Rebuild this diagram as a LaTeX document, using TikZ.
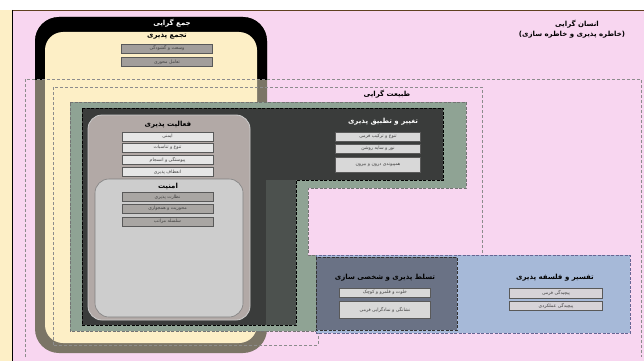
\documentclass[tikz,border=0pt]{standalone}
\usepackage{fontspec}
\usepackage{xcolor}
\newfontfamily\farsi[Script=Arabic]{DejaVu Sans}
\TeXXeTstate=1
\usetikzlibrary{positioning}

\definecolor{pinkbg}{HTML}{F8D6F0}
\definecolor{creamy}{HTML}{FDEFC6}
\definecolor{olivegrey}{HTML}{7B7566}
\definecolor{greenL}{HTML}{8FA394}
\definecolor{darkfill}{HTML}{3A3C3B}
\definecolor{darklight}{HTML}{4C514E}
\definecolor{taupe}{HTML}{B2A9A6}
\definecolor{safegrey}{HTML}{CDCDCD}
\definecolor{boxA}{HTML}{A29E9B}
\definecolor{boxB}{HTML}{E6E6E6}
\definecolor{boxC}{HTML}{A9A6A3}
\definecolor{boxD}{HTML}{D8D8D8}
\definecolor{slate}{HTML}{6A7285}
\definecolor{bluefill}{HTML}{A6B9D8}
\definecolor{boxE}{HTML}{D6D3D8}

\newcommand{\fa}[1]{\beginR #1\endR}

\begin{document}
\begin{tikzpicture}[x=1pt,y=-1pt,
  title/.style={font=\farsi\bfseries\fontsize{7}{8}\selectfont},
  item/.style={draw=black!65, line width=0.7pt, minimum width=91pt,
    minimum height=9pt, inner sep=0pt, text=black!75,
    font=\farsi\fontsize{4.6}{5}\selectfont},
  zone/.style={draw=black!45, dash pattern=on 3pt off 2pt, line width=0.6pt},
  edge/.style={dash pattern=on 3pt off 1.5pt, line width=0.9pt}]
\useasboundingbox (0,0) rectangle (644,361);

% background
\fill[white] (0,0) rectangle (644,10);
\fill[creamy] (0,10) rectangle (12,361);
\fill[pinkbg] (12,10) rectangle (644,361);
\draw[line width=0.8pt, brown!50!black] (12,10) -- (644,10);
\draw[line width=1pt] (12,10) -- (12,361);

% collective shape
\fill[olivegrey, rounded corners=24pt] (35,17) rectangle (267,353);
\begin{scope}
  \clip (0,0) rectangle (644,79);
  \fill[black, rounded corners=24pt] (35,17) rectangle (267,353);
\end{scope}
\fill[creamy, rounded corners=18pt] (45,32) rectangle (257,343);

% dashed zones
\draw[zone] (25,357) -- (25,79) -- (641,79) -- (641,357);
\draw[zone] (53,345) -- (53,87) -- (482,87) -- (482,255)
  -- (318,255) -- (318,345) -- cycle;

% L shapes
\filldraw[greenL, draw=black!55, edge] (70,102) -- (466,102) -- (466,188)
  -- (308,188) -- (308,255) -- (466,255) -- (466,331) -- (70,331) -- cycle;
\fill[darkfill] (82,108) -- (443,108) -- (443,180) -- (296,180)
  -- (296,325) -- (82,325) -- cycle;
\fill[darklight] (266,180) rectangle (296,325);
\draw[black, edge] (82,108) -- (443,108) -- (443,180) -- (296,180)
  -- (296,325) -- (82,325) -- cycle;

\filldraw[bluefill, draw=blue!30!black!60, edge] (316,255) rectangle (630,333);
\filldraw[slate, draw=black!80, edge] (316,257) rectangle (457,330);

% activity and security
\filldraw[taupe, draw=black!20, line width=0.8pt, rounded corners=14pt]
  (88,115) rectangle (250,320);
\filldraw[safegrey, draw=black!50, line width=0.6pt, rounded corners=14pt]
  (95,179) rectangle (243,317);

% titles
\node[title, text=white] (collective) at (172,23) {\fa{جمع گرایی}};
\node[title] (gathering) at (167,36) {\fa{تجمع پذیری}};
\node[title] (humanism) at (577,24) {\fa{انسان گرایی}};
\node[title] (memory) at (572,35) {\fa{(خاطره پذیری و خاطره سازی)}};
\node[title] (naturalism) at (387,94) {\fa{طبیعت گرایی}};
\node[title, text=white] (adaptive) at (383,122) {\fa{تغییر و تطبیق پذیری}};
\node[title] (activity) at (168,125) {\fa{فعالیت پذیری}};
\node[title] (security) at (168,186) {\fa{امنیت}};
\node[title] (mastery) at (385,278) {\fa{تسلط پذیری و شخصی سازی}};
\node[title] (meaning) at (555,278) {\fa{تفسیر و فلسفه پذیری}};

% items
\node[item, fill=boxA] (vast) at (167,48.5) {\fa{وسعت و گشودگی}};
\node[item, fill=boxA] (interact) at (167,62) {\fa{تعامل محوری}};

\node[item, fill=boxB] (safety) at (167.5,136.5) {\fa{ایمنی}};
\node[item, fill=boxB] (variety) at (167.5,147.5) {\fa{تنوع و تناسبات}};
\node[item, fill=boxB] (unity) at (167.5,160) {\fa{پیوستگی و انسجام}};
\node[item, fill=boxB] (flexible) at (167.5,172) {\fa{انعطاف پذیری}};

\node[item, fill=boxC] (watch) at (167.5,197) {\fa{نظارت پذیری}};
\node[item, fill=boxC] (centre) at (167.5,208.5) {\fa{محوریت و همجواری}};
\node[item, fill=boxC] (hierarchy) at (167.5,221.5) {\fa{سلسله مراتب}};

\node[item, fill=boxD, minimum width=85pt] (form) at (378,136.5) {\fa{تنوع و ترکیب فرمی}};
\node[item, fill=boxD, minimum width=85pt] (light) at (378,148.5) {\fa{نور و سایه روشن}};
\node[item, fill=boxD, minimum width=85pt, minimum height=15pt] (inout) at (378,164.5)
  {\fa{همپیوندی درون و بیرون}};

\node[item, fill=boxD] (privacy) at (385,292.5) {\fa{خلوت و قلمرو و کوچک}};
\node[item, fill=boxD, minimum height=17pt] (symbol) at (385,309.5)
  {\fa{نشانگی و نمادگرایی فرمی}};

\node[item, fill=boxE, minimum width=93pt, minimum height=10pt] (complexform) at (556,293)
  {\fa{پیچیدگی فرمی}};
\node[item, fill=boxE, minimum width=93pt] (complexuse) at (556,305.5)
  {\fa{پیچیدگی عملکردی}};
\end{tikzpicture}
\end{document}
